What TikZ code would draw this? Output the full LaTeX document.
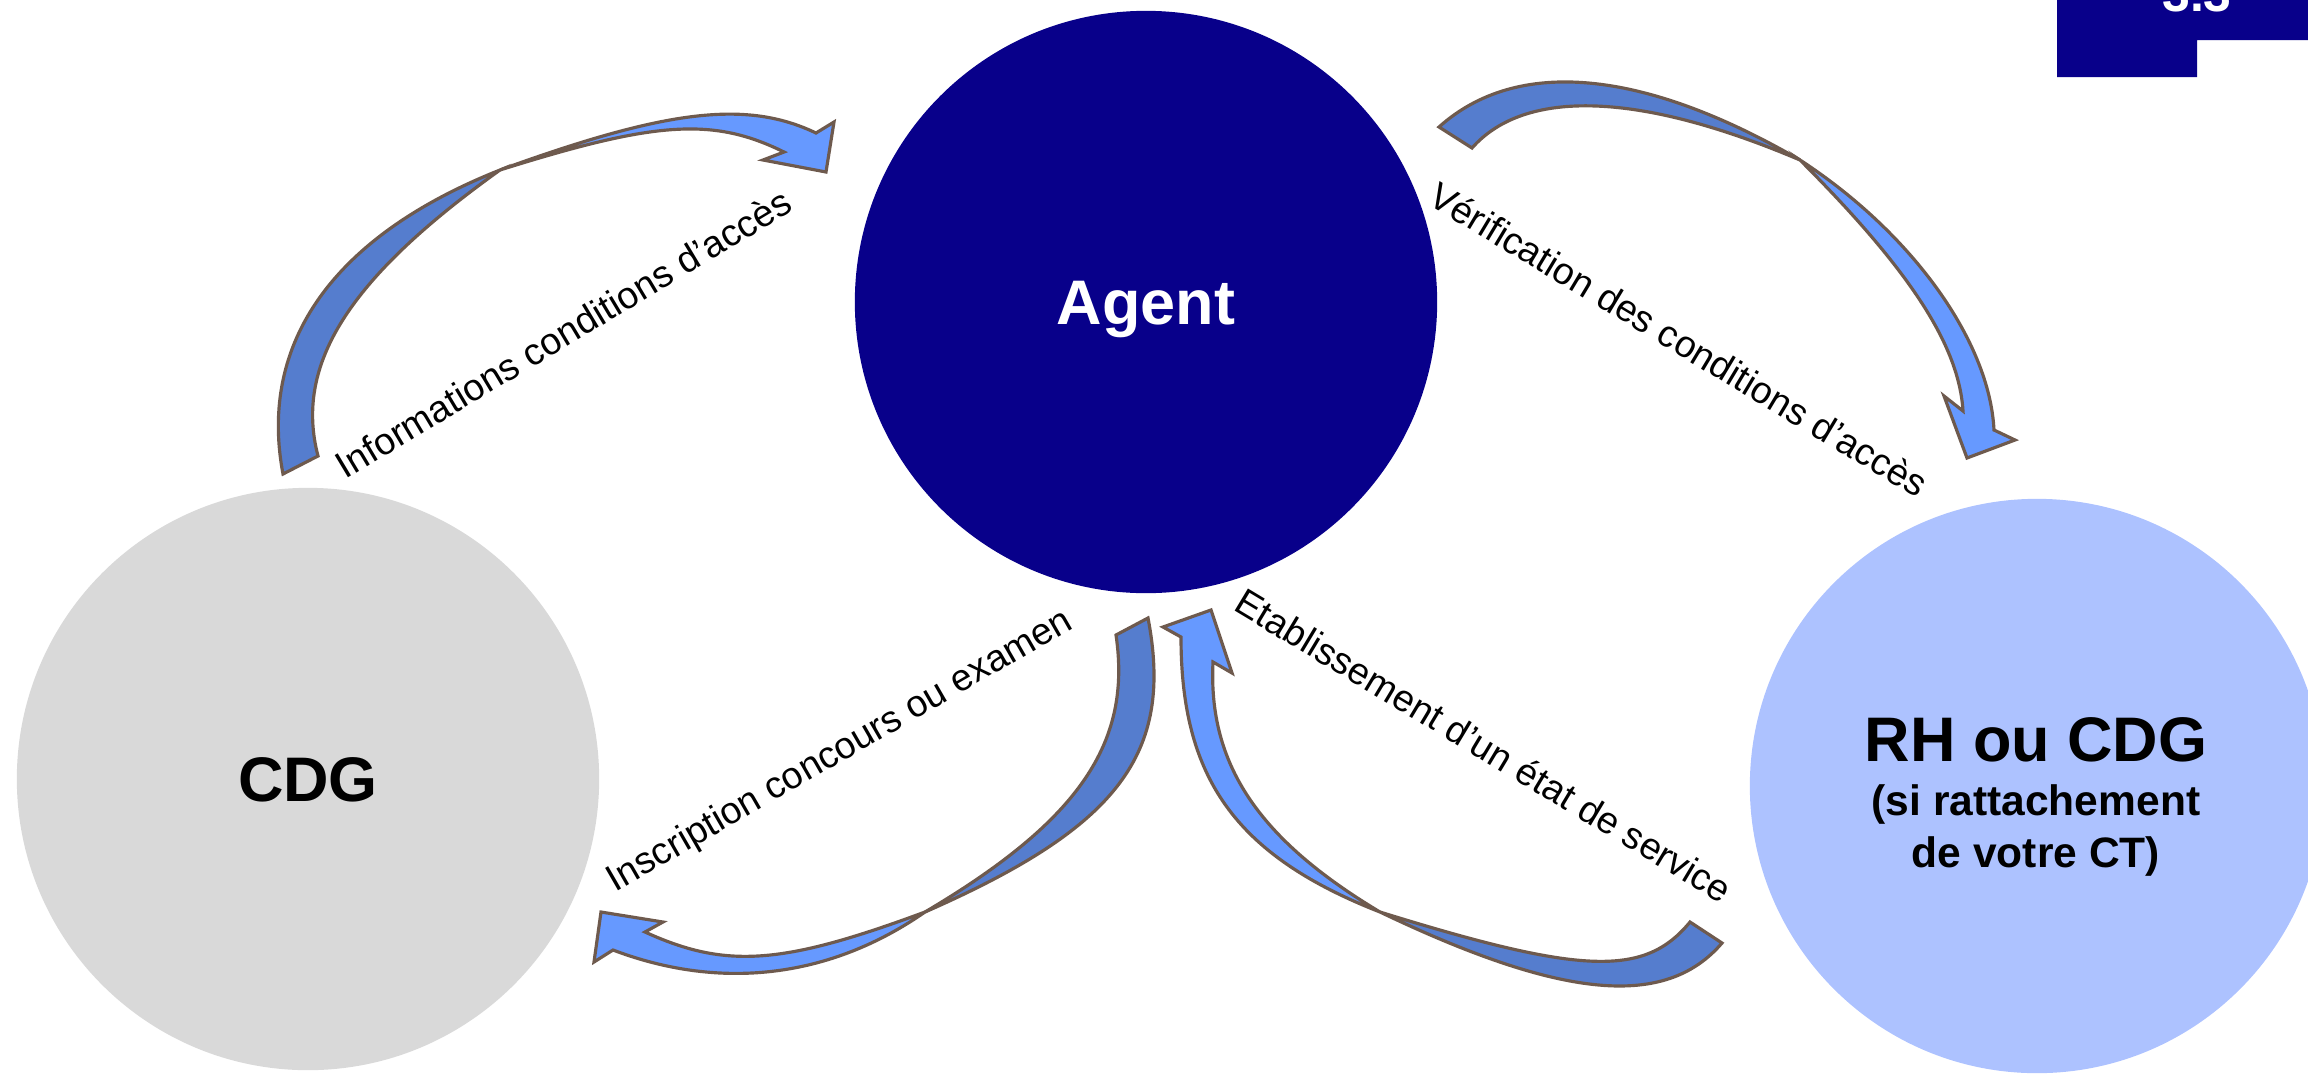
\documentclass[tikz,border=0pt]{standalone}
\usepackage{fontspec}
\setmainfont{Liberation Sans}
\definecolor{navy}{RGB}{8,0,138}
\definecolor{cdggray}{RGB}{217,217,217}
\definecolor{rhblue}{RGB}{173,194,255}
\definecolor{arrdarkc}{RGB}{85,125,206}
\definecolor{arrlightc}{RGB}{102,153,255}
\definecolor{arrline}{RGB}{110,90,78}
\begin{document}
\begin{tikzpicture}[x=0.01cm,y=-0.01cm,
  disc/.style={circle,inner sep=0pt,minimum size=5.82cm,draw=none},
  bigtxt/.style={inner sep=0pt,anchor=base,font=\fontsize{17.9pt}{20pt}\selectfont\bfseries},
  subtxt/.style={inner sep=0pt,anchor=base,font=\fontsize{12.1pt}{14pt}\selectfont\bfseries},
  lbl/.style={inner sep=0pt,anchor=base,font=\fontsize{10.67pt}{12pt}\selectfont},
  arrdark/.style={fill=arrdarkc,draw=arrline,line width=0.9pt,line join=miter},
  arrlight/.style={fill=arrlightc,draw=arrline,line width=0.9pt,line join=miter}]
\useasboundingbox (0,0) rectangle (2308,1078);

% circles
\node[disc,fill=navy] (agent) at (1146,302) {};
\node[disc,fill=cdggray] (cdg) at (308,779) {};
\node[disc,fill=rhblue,minimum size=5.74cm] (rh) at (2037,786) {};

\node[bigtxt,text=white] (agenttxt) at (1146,324) {Agent};
\node[bigtxt] (cdgtxt) at (308,801) {CDG};
\node[bigtxt] (rhtxt) at (2036,761) {RH ou CDG};
\node[subtxt] (rhsub1) at (2036,815) {(si rattachement};
\node[subtxt] (rhsub2) at (2036,867) {de votre CT)};

% top-right tab
\fill[navy] (2057,0) -- (2308,0) -- (2308,40) -- (2197,40) -- (2197,77) -- (2057,77) -- cycle;
\node[inner sep=0pt,anchor=base,text=white,font=\fontsize{14.2pt}{16pt}\selectfont\bfseries] (secnum) at (2197,11) {3.3};

% crossing points of the twisted arrows
\coordinate (xa) at (500,170);
\coordinate (xb) at (1800,160);
\coordinate (xc) at (925,912);
\coordinate (xd) at (1380,912);

% arrow 1 : CDG -> Agent
\filldraw[arrdark] (283,474) .. controls (258,342) and (334,236) .. (xa)
  .. controls (349,278) and (294,364) .. (318,456) -- cycle;
\filldraw[arrlight] (xa) .. controls (668,109) and (747,100) .. (816,133)
  -- (834,122) -- (826,172) -- (763,160) -- (784,152)
  .. controls (713,117) and (656,121) .. (xa) -- cycle;

% arrow 2 : Agent -> RH
\filldraw[arrdark] (1439,127) .. controls (1517,57) and (1643,69) .. (xb)
  .. controls (1640,92) and (1525,88) .. (1472,148) -- cycle;
\filldraw[arrlight] (xb) .. controls (1912,233) and (1989.5,341) .. (1994,430)
  -- (2015,440) -- (1967,458) -- (1944,396) -- (1963,411)
  .. controls (1959,345.5) and (1910,270) .. (xb) -- cycle;

% arrow 3 : Agent -> CDG
\filldraw[arrdark] (1116,635) .. controls (1132,743) and (1079,821) .. (xc)
  .. controls (1118.5,827) and (1174,754) .. (1148,618) -- cycle;
\filldraw[arrlight] (xc) .. controls (830,978) and (721,991) .. (613,950)
  -- (594,962) -- (601,912) -- (663,922) -- (645,932)
  .. controls (726,969) and (782,965) .. (xc) -- cycle;

% arrow 4 : RH -> Agent
\filldraw[arrlight] (xd) .. controls (1234.5,855) and (1181,777) .. (1181,637)
  -- (1163,627) -- (1211,610) -- (1232,673) -- (1213,662)
  .. controls (1208,764) and (1258,839) .. (xd) -- cycle;
\filldraw[arrdark] (xd) .. controls (1563,999.5) and (1665.7,1008.8) .. (1722,943)
  -- (1690,922) .. controls (1644.8,977) and (1582.8,975) .. (xd) -- cycle;

% labels
\node[lbl,rotate=31] (l1) at (570,345) {Informations conditions d’accès};
\node[lbl,rotate=-31] (l2) at (1672,351) {Vérification des conditions d’accès};
\node[lbl,rotate=30] (l3) at (845,760) {Inscription concours ou examen};
\node[lbl,rotate=-31] (l4) at (1477,757) {Etablissement d’un état de service};
\end{tikzpicture}
\end{document}
